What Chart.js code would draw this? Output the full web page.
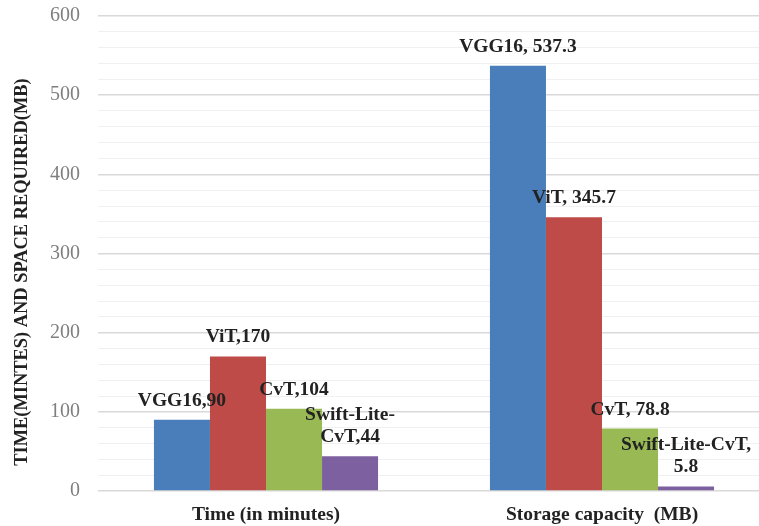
<!DOCTYPE html>
<html lang="en">
<head>
    <meta charset="UTF-8">
    <title>Time and space required</title>
    <script src="https://cdn.jsdelivr.net/npm/chart.js"></script>
    <style>
        html, body { margin: 0; padding: 0; background: #fff; overflow: hidden; }
        #wrap { width: 772px; height: 526px; }
    </style>
</head>
<body>
<div id="wrap"><canvas id="chart"></canvas></div>
<script>
const categories = ['Time (in minutes)', 'Storage capacity  (MB)'];
const models = ['VGG16', 'ViT', 'CvT', 'Swift-Lite-CvT'];
const vgg16 = [90, 537.3];
const vit = [170, 345.7];
const cvt = [104, 78.8];
const swift = [44, 5.8];
const colors = ['#4A7EBB', '#BE4B48', '#98B954', '#7D60A0'];
const yTitle = 'TIME(MINTES) AND SPACE REQUIRED(MB)';

const serif = '"Liberation Serif", "Times New Roman", serif';

// label text the way the original had it (first group no space, second with space)
function labelLines(s, i, v) {
    if (s === 3) {
        return i === 0 ? ['Swift-Lite-', 'CvT,' + v] : ['Swift-Lite-CvT,', String(v)];
    }
    return [models[s] + (i === 0 ? ',' : ', ') + v];
}

const barLabels = {
    id: 'barLabels',
    afterDatasetsDraw(chart) {
        const ctx = chart.ctx;
        ctx.save();
        ctx.font = 'bold 19.5px ' + serif;
        ctx.fillStyle = '#222';
        ctx.textAlign = 'center';
        ctx.textBaseline = 'middle';
        chart.data.datasets.forEach((ds, s) => {
            chart.getDatasetMeta(s).data.forEach((bar, i) => {
                const lines = labelLines(s, i, ds.data[i]);
                lines.forEach((t, k) => {
                    ctx.fillText(t, bar.x, bar.y - 19 - (lines.length - 1 - k) * 22.5);
                });
            });
        });
        ctx.restore();
    }
};

const axisTitle = {
    id: 'axisTitle',
    afterDraw(chart) {
        const ctx = chart.ctx;
        ctx.save();
        ctx.translate(22, 272);
        ctx.rotate(-Math.PI / 2);
        ctx.font = 'bold 18.4px ' + serif;
        ctx.fillStyle = '#222';
        ctx.textAlign = 'center';
        ctx.textBaseline = 'middle';
        ctx.fillText(yTitle, 0, 0);
        ctx.restore();
    }
};

new Chart(document.getElementById('chart'), {
    type: 'bar',
    data: {
        labels: categories,
        datasets: [vgg16, vit, cvt, swift].map((d, s) => ({
            label: models[s],
            data: d,
            backgroundColor: colors[s],
            borderWidth: 0,
            categoryPercentage: 0.667,
            barPercentage: 1
        }))
    },
    options: {
        responsive: true,
        maintainAspectRatio: false,
        animation: false,
        layout: {padding: {top: 16, right: 2, left: 0, bottom: 0}},
        plugins: {legend: {display: false}, tooltip: {enabled: false}},
        scales: {
            x: {
                grid: {display: false, drawTicks: false},
                border: {display: false},
                ticks: {font: {family: serif, size: 19.5, weight: 'bold'}, color: '#222', padding: 12},
                afterFit(scale) {
                    scale.height = 35;
                    scale.paddingLeft = 0;
                    scale.paddingRight = 0;
                }
            },
            y: {
                min: 0,
                max: 600,
                border: {display: false},
                grid: {
                    drawTicks: false,
                    color: (c) => c.tick && c.tick.value % 100 === 0 ? '#d9d9d9' : '#f0f0f0',
                    lineWidth: (c) => c.tick && c.tick.value % 100 === 0 ? 1.4 : 1
                },
                ticks: {
                    stepSize: 20,
                    autoSkip: false,
                    padding: 18,
                    color: '#7f7f7f',
                    font: {family: serif, size: 20},
                    callback: (v) => v % 100 === 0 ? v : ''
                },
                afterFit(scale) {
                    scale.width = 98;
                    scale.paddingTop = 0;
                    scale.paddingBottom = 0;
                }
            }
        }
    },
    plugins: [barLabels, axisTitle]
});
</script>
</body>
</html>
